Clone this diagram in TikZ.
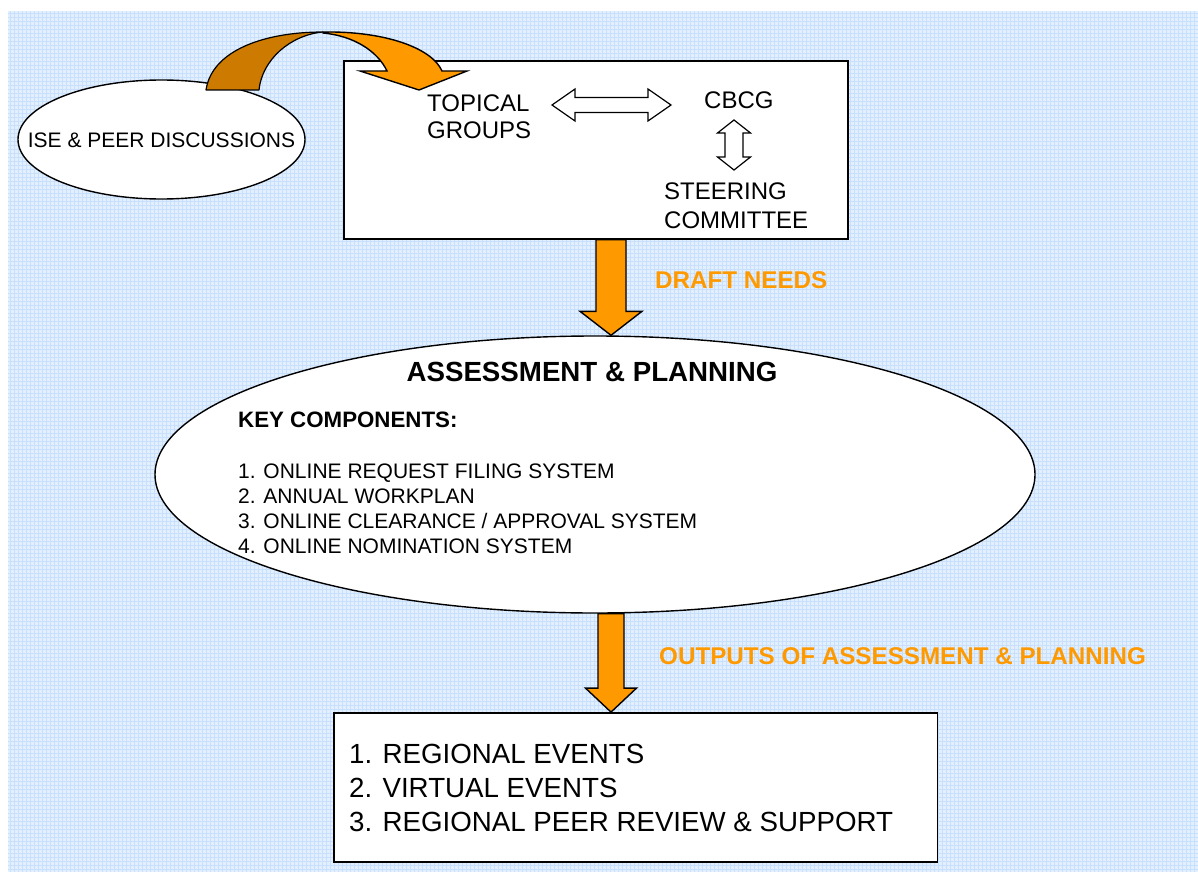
\documentclass[tikz,border=0pt]{standalone}
\usepackage{fontspec}
\setmainfont{Liberation Sans}
\usetikzlibrary{shapes.geometric,calc}

\definecolor{arroworange}{RGB}{255,153,0}
\definecolor{arrowdark}{RGB}{204,122,0}
\definecolor{paperblue}{RGB}{226,239,255}
\definecolor{gridblue}{RGB}{200,224,252}

\begin{document}
\begin{tikzpicture}[x=1pt,y=-1pt,
    outline_box/.style={draw=black,fill=white,line width=1.4pt,inner sep=0pt},
    outline_ellipse/.style={ellipse,draw=black,fill=white,line width=1.4pt,inner sep=0pt},
    block_arrow/.style={draw=black,fill=arroworange,line width=1.4pt,line join=miter},
    back_arrow/.style={draw=black,fill=arrowdark,line width=1.2pt,line join=round},
    hollow_arrow/.style={draw=black,fill=white,line width=1.2pt,line join=miter},
    body_text/.style={anchor=base west,inner sep=0pt,text=black,font=\fontsize{24}{28}\selectfont},
    list_text/.style={anchor=base west,inner sep=0pt,text=black,font=\fontsize{21}{25}\selectfont},
    big_text/.style={anchor=base west,inner sep=0pt,text=black,font=\fontsize{27.7}{33}\selectfont},
    note_text/.style={anchor=base west,inner sep=0pt,text=arroworange,font=\bfseries\fontsize{24.2}{29}\selectfont}]
  \useasboundingbox (0,0) rectangle (1198,872);
  % paper background
  \fill[paperblue] (8,11) rectangle (1198,872);
  \foreach \gx in {10,14,...,1198}
    \draw[gridblue,line width=0.7pt] (\gx,11) -- (\gx,872);
  \foreach \gy in {13,17,...,872}
    \draw[gridblue,line width=0.7pt] (8,\gy) -- (1198,\gy);

  % boxes and ellipses
  \node[outline_ellipse,minimum width=287,minimum height=119] (ise) at (161.5,139.5) {};
  \node[list_text,anchor=base] (iselabel) at (161.5,147.5) {ISE \& PEER DISCUSSIONS};
  \node[outline_box,minimum width=504,minimum height=178] (topbox) at (596,150) {};
  \node[outline_ellipse,minimum width=880,minimum height=277] (assess) at (595,474.5) {};
  \node[outline_box,minimum width=603.5,minimum height=149] (outbox) at (635.75,787.3) {};

  % curved arrow into the groups box
  \draw[back_arrow] (206,90) .. controls (212,50) and (265,32) .. (323,32)
    .. controls (290,35) and (262,60) .. (259,90) -- cycle;
  \draw[block_arrow] (323,32) .. controls (385,31) and (432,48) .. (442,71)
    -- (467,71) -- (419,90) -- (360,71) -- (387,71)
    .. controls (378,52) and (355,36) .. (323,33) -- cycle;

  % text inside the groups box
  \node[body_text] (topical) at (427,111) {TOPICAL};
  \node[body_text] (groups) at (427,139) {GROUPS};
  \node[body_text] (cbcg) at (704,108.5) {CBCG};
  \node[body_text] (steering) at (664,199.5) {STEERING};
  \node[body_text] (committee) at (664,228.5) {COMMITTEE};

  \coordinate (ha) at (552,105);
  \coordinate (hb) at (671,105);
  \draw[hollow_arrow] (ha) -- ++(23,-16) -- ++(0,8.5) -- ++(73,0) -- ++(0,-8.5)
    -- (hb) -- ++(-23,16) -- ++(0,-8.5) -- ++(-73,0) -- ++(0,8.5) -- cycle;
  \coordinate (va) at (734,120);
  \coordinate (vb) at (734,170);
  \draw[hollow_arrow] (va) -- ++(16.5,13) -- ++(-7.5,0) -- ++(0,24) -- ++(7.5,0)
    -- (vb) -- ++(-16.5,-13) -- ++(7.5,0) -- ++(0,-24) -- ++(-7.5,0) -- cycle;

  % draft needs arrow
  \coordinate (arrowx) at (611,0);
  \draw[block_arrow] ($(topbox.south -| arrowx)+(-15,0)$) -- ($(assess.north -| arrowx)+(-15,-24)$)
    -- ($(assess.north -| arrowx)+(-31,-24)$) -- (assess.north -| arrowx)
    -- ($(assess.north -| arrowx)+(31,-24)$) -- ($(assess.north -| arrowx)+(15,-24)$)
    -- ($(topbox.south -| arrowx)+(15,0)$) -- cycle;
  \node[note_text] (draft) at (655,288.3) {DRAFT NEEDS};

  % assessment and planning
  \node[big_text,anchor=base,font=\bfseries\fontsize{27.7}{33}\selectfont] (title) at (592,381) {ASSESSMENT \& PLANNING};
  \node[list_text,font=\bfseries\fontsize{22.3}{27}\selectfont] (keycomp) at (238,427) {KEY COMPONENTS:};
  \node[list_text] (item1) at (238,478) {1. ONLINE REQUEST FILING SYSTEM};
  \node[list_text] (item2) at (238,503) {2. ANNUAL WORKPLAN};
  \node[list_text] (item3) at (238,528) {3. ONLINE CLEARANCE / APPROVAL SYSTEM};
  \node[list_text] (item4) at (238,553) {4. ONLINE NOMINATION SYSTEM};

  % outputs arrow
  \draw[block_arrow] ($(assess.south -| arrowx)+(-13,0)$) -- ($(outbox.north -| arrowx)+(-13,-24)$)
    -- ($(outbox.north -| arrowx)+(-25.5,-24)$) -- (outbox.north -| arrowx)
    -- ($(outbox.north -| arrowx)+(25.5,-24)$) -- ($(outbox.north -| arrowx)+(13,-24)$)
    -- ($(assess.south -| arrowx)+(13,0)$) -- cycle;
  \node[note_text] (outputs) at (659,664) {OUTPUTS OF ASSESSMENT \& PLANNING};

  % outputs box
  \node[big_text] (out1) at (349,763) {1. REGIONAL EVENTS};
  \node[big_text] (out2) at (349,797) {2. VIRTUAL EVENTS};
  \node[big_text] (out3) at (349,831) {3. REGIONAL PEER REVIEW \& SUPPORT};
\end{tikzpicture}
\end{document}
